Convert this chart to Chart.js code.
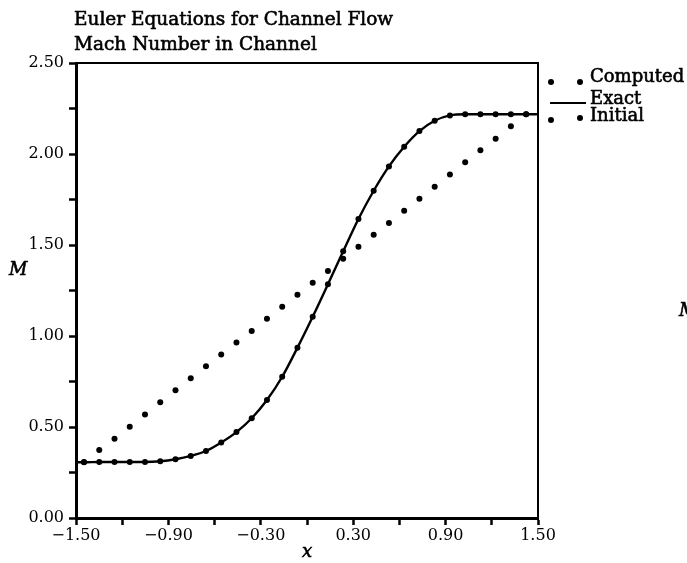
<!DOCTYPE html>
<html>
<head>
<meta charset="utf-8">
<script src="https://cdn.jsdelivr.net/npm/chart.js@4"></script>
<style>
  body { margin: 0; background: #fff; }
  #wrap { width: 687px; height: 563px; }
</style>
</head>
<body>
<div id="wrap"><canvas id="machChart" width="687" height="563"></canvas></div>
<script>
// x positions of the cells
let xCells = [-1.448, -1.349, -1.250, -1.151, -1.052, -0.953, -0.854, -0.755, -0.656, -0.557,
  -0.458, -0.359, -0.260, -0.161, -0.062, 0.037, 0.136, 0.235, 0.334, 0.433,
  0.532, 0.631, 0.730, 0.829, 0.928, 1.027, 1.126, 1.225, 1.324, 1.423];
let computedM = [0.306, 0.308, 0.308, 0.308, 0.308, 0.312, 0.323, 0.341, 0.368, 0.415,
  0.472, 0.548, 0.648, 0.776, 0.936, 1.106, 1.284, 1.465, 1.643, 1.798,
  1.932, 2.040, 2.126, 2.183, 2.212, 2.218, 2.218, 2.218, 2.218, 2.218];
let initialM = [0.308, 0.374, 0.436, 0.502, 0.568, 0.636, 0.702, 0.768, 0.834, 0.899,
  0.964, 1.028, 1.095, 1.161, 1.227, 1.293, 1.357, 1.425, 1.491, 1.557,
  1.621, 1.688, 1.754, 1.820, 1.887, 1.954, 2.020, 2.084, 2.152, 2.218];
// exact curve runs wall to wall
let exactX = [-1.5].concat(xCells, [1.5]);
let exactM = [0.306].concat(computedM, [2.218]);

let serif = "DejaVu Serif";

function pts(xs, ys) {
  return xs.map((x, i) => ({ x: x, y: ys[i] }));
}

function fmt(v) {
  return (v < -1e-9 ? "\u2212" : "") + Math.abs(v).toFixed(2);
}

// frame, titles, axis names and the hand-drawn legend
const decor = {
  id: "decor",
  afterDraw(chart) {
    const { ctx, chartArea: a } = chart;
    ctx.save();
    ctx.strokeStyle = "#000";
    ctx.lineWidth = 2;
    ctx.beginPath();
    ctx.moveTo(a.left, a.top);
    ctx.lineTo(a.right, a.top);
    ctx.lineTo(a.right, a.bottom);
    ctx.stroke();

    // scanned print looks a bit heavy, so thicken the glyphs slightly
    function txt(s, x, y) {
      ctx.lineWidth = 0.6;
      ctx.fillText(s, x, y);
      ctx.strokeText(s, x, y);
    }

    ctx.fillStyle = "#000";
    ctx.textAlign = "left";
    ctx.textBaseline = "alphabetic";
    ctx.font = "18.5px '" + serif + "'";
    txt("Euler Equations for Channel Flow", a.left - 2, 25);
    txt("Mach Number in Channel", a.left - 2, 50);

    ctx.font = "italic 18px '" + serif + "'";
    txt("M", 9, 275);
    txt("M", 679, 316);
    ctx.textAlign = "center";
    txt("x", (a.left + a.right) / 2, 557);

    // legend
    let lx = a.right + 13;
    ctx.textAlign = "left";
    ctx.font = "18px '" + serif + "'";
    function dot(x, y) {
      ctx.beginPath();
      ctx.arc(x, y, 3, 0, Math.PI * 2);
      ctx.fill();
    }
    dot(lx, 82); dot(lx + 29, 82);
    txt("Computed", lx + 39, 82);
    ctx.lineWidth = 2;
    ctx.beginPath();
    ctx.moveTo(lx - 1, 103);
    ctx.lineTo(lx + 35, 103);
    ctx.stroke();
    txt("Exact", lx + 39, 104);
    dot(lx, 120); dot(lx + 29, 118);
    txt("Initial", lx + 39, 121);
    ctx.restore();
  }
};

new Chart(document.querySelector("#machChart"), {
  type: "line",
  data: {
    datasets: [
      {
        label: "Computed",
        data: pts(xCells, computedM),
        showLine: false,
        pointRadius: 3,
        pointBackgroundColor: "#000",
        pointBorderWidth: 0,
        order: 0,
      },
      {
        label: "Exact",
        data: pts(exactX, exactM),
        borderColor: "#000",
        borderWidth: 2.4,
        pointRadius: 0,
        cubicInterpolationMode: "monotone",
        fill: false,
        order: 1,
      },
      {
        label: "Initial",
        data: pts(xCells, initialM),
        showLine: false,
        pointRadius: 3,
        pointBackgroundColor: "#000",
        pointBorderWidth: 0,
        order: 2,
      },
    ],
  },
  options: {
    responsive: false,
    animation: false,
    layout: {
      padding: { top: 63, right: 149, left: 0, bottom: 0 },
    },
    scales: {
      x: {
        type: "linear",
        min: -1.5,
        max: 1.5,
        afterFit: (s) => { s.height = 45; },
        grid: {
          drawOnChartArea: false,
          drawTicks: true,
          tickLength: 7,
          tickWidth: 2.5,
          tickColor: "#000",
        },
        border: { display: true, color: "#000", width: 3 },
        ticks: {
          stepSize: 0.3,
          autoSkip: false,
          maxRotation: 0,
          padding: 1,
          color: "#000",
          font: { size: 16, family: serif },
          callback: (v, i) => (i % 2 === 0 ? fmt(v) : ""),
        },
      },
      y: {
        min: 0,
        max: 2.5,
        afterFit: (s) => { s.width = 76; },
        grid: {
          drawOnChartArea: false,
          drawTicks: true,
          tickLength: 7,
          tickWidth: 2.5,
          tickColor: "#000",
        },
        border: { display: true, color: "#000", width: 3 },
        ticks: {
          stepSize: 0.25,
          autoSkip: false,
          padding: 5,
          color: "#000",
          font: { size: 16, family: serif },
          callback: (v) => (Math.abs(v * 2 - Math.round(v * 2)) < 1e-6 ? fmt(v) : ""),
        },
      },
    },
    plugins: {
      legend: { display: false },
      tooltip: { enabled: false },
    },
  },
  plugins: [decor],
});
</script>
</body>
</html>
